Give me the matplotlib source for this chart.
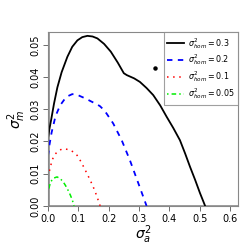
import matplotlib
matplotlib.use("Agg")
import matplotlib.pyplot as plt

# curve points
x03 = [0, 0.005, 0.011, 0.02, 0.031, 0.045, 0.064, 0.08, 0.097, 0.113, 0.13, 0.147,
       0.163, 0.185, 0.207, 0.23, 0.25, 0.26, 0.284, 0.303, 0.325, 0.347, 0.37,
       0.391, 0.413, 0.435, 0.452, 0.468, 0.485, 0.501, 0.518]
y03 = [0.021, 0.024, 0.027, 0.0318, 0.0368, 0.0415, 0.0463, 0.0494, 0.0514, 0.0524,
       0.0528, 0.0526, 0.052, 0.0503, 0.0479, 0.0445, 0.0412, 0.0406, 0.0396, 0.0385,
       0.0366, 0.0344, 0.0312, 0.0277, 0.0242, 0.0204, 0.0163, 0.0122, 0.0081, 0.004, 0]

x02 = [0, 0.005, 0.012, 0.025, 0.04, 0.053, 0.066, 0.08, 0.094, 0.108, 0.125, 0.141,
       0.156, 0.171, 0.182, 0.193, 0.215, 0.243, 0.27, 0.298, 0.325]
y02 = [0.0155, 0.019, 0.0228, 0.0279, 0.0312, 0.0329, 0.0341, 0.0347, 0.0346, 0.034,
       0.0333, 0.0325, 0.0318, 0.031, 0.03, 0.0287, 0.0256, 0.0204, 0.0142, 0.007, 0]

x01 = [0, 0.004, 0.009, 0.015, 0.023, 0.033, 0.045, 0.057, 0.07, 0.083, 0.096,
       0.109, 0.122, 0.135, 0.148, 0.16, 0.172]
y01 = [0.009, 0.0105, 0.0125, 0.0145, 0.016, 0.017, 0.0176, 0.0177, 0.0174, 0.0168,
       0.0157, 0.0137, 0.0113, 0.0088, 0.0062, 0.0033, 0]

x005 = [0, 0.005, 0.01, 0.018, 0.03, 0.04, 0.05, 0.058, 0.066, 0.074, 0.08, 0.086]
y005 = [0.004, 0.0062, 0.0076, 0.0086, 0.009, 0.0085, 0.0075, 0.0063, 0.0049, 0.0033,
        0.0019, 0]

pt_x = [0.353]
pt_y = [0.0427]

labels = [r'$\sigma^2_{hom}=0.3$', r'$\sigma^2_{hom}=0.2$',
          r'$\sigma^2_{hom}=0.1$', r'$\sigma^2_{hom}=0.05$']

fig = plt.figure(figsize=(2.46, 2.46), dpi=100)
ax = fig.add_axes([0.195, 0.163, 0.772, 0.707])

ax.axhline(0, color='gray', lw=1.8, zorder=1)
ax.axvline(0, color='gray', lw=1.8, zorder=1)

ax.plot(x03, y03, color='black', lw=1.3, label=labels[0])
ax.plot(x02, y02, color='blue', lw=1.3, dashes=(3, 3), label=labels[1])
ax.plot(x01, y01, color='red', lw=1.1, dashes=(1, 3), label=labels[2])
ax.plot(x005, y005, color='#00ee00', lw=1.1, dashes=(1, 2, 3, 2), label=labels[3])
ax.plot(pt_x, pt_y, 'o', color='black', ms=2.2, zorder=5)

ax.set_xlim(0, 0.626)
ax.set_ylim(0, 0.054)
ax.set_xticks([0, 0.1, 0.2, 0.3, 0.4, 0.5, 0.6])
ax.set_xticklabels(['0.0', '0.1', '0.2', '0.3', '0.4', '0.5', '0.6'])
ax.set_yticks([0, 0.01, 0.02, 0.03, 0.04, 0.05])
ax.set_yticklabels(['0.00', '0.01', '0.02', '0.03', '0.04', '0.05'], rotation=90, va='center')
ax.tick_params(labelsize=7, length=3.5, width=0.6, color='#555555', pad=2)

for s in ax.spines.values():
    s.set_color('#888888')
    s.set_linewidth(0.8)

ax.set_xlabel(r'$\sigma^2_a$', fontsize=10, labelpad=0)
ax.set_ylabel(r'$\sigma^2_m$', fontsize=10, labelpad=2)

leg = ax.legend(loc='upper right', fontsize=5.8, frameon=True, fancybox=False,
                edgecolor='#888888', borderaxespad=0, handlelength=2.0,
                labelspacing=0.25, borderpad=0.45, handletextpad=0.5)
leg.get_frame().set_linewidth(0.8)

fig.savefig('out.png', dpi=100)
